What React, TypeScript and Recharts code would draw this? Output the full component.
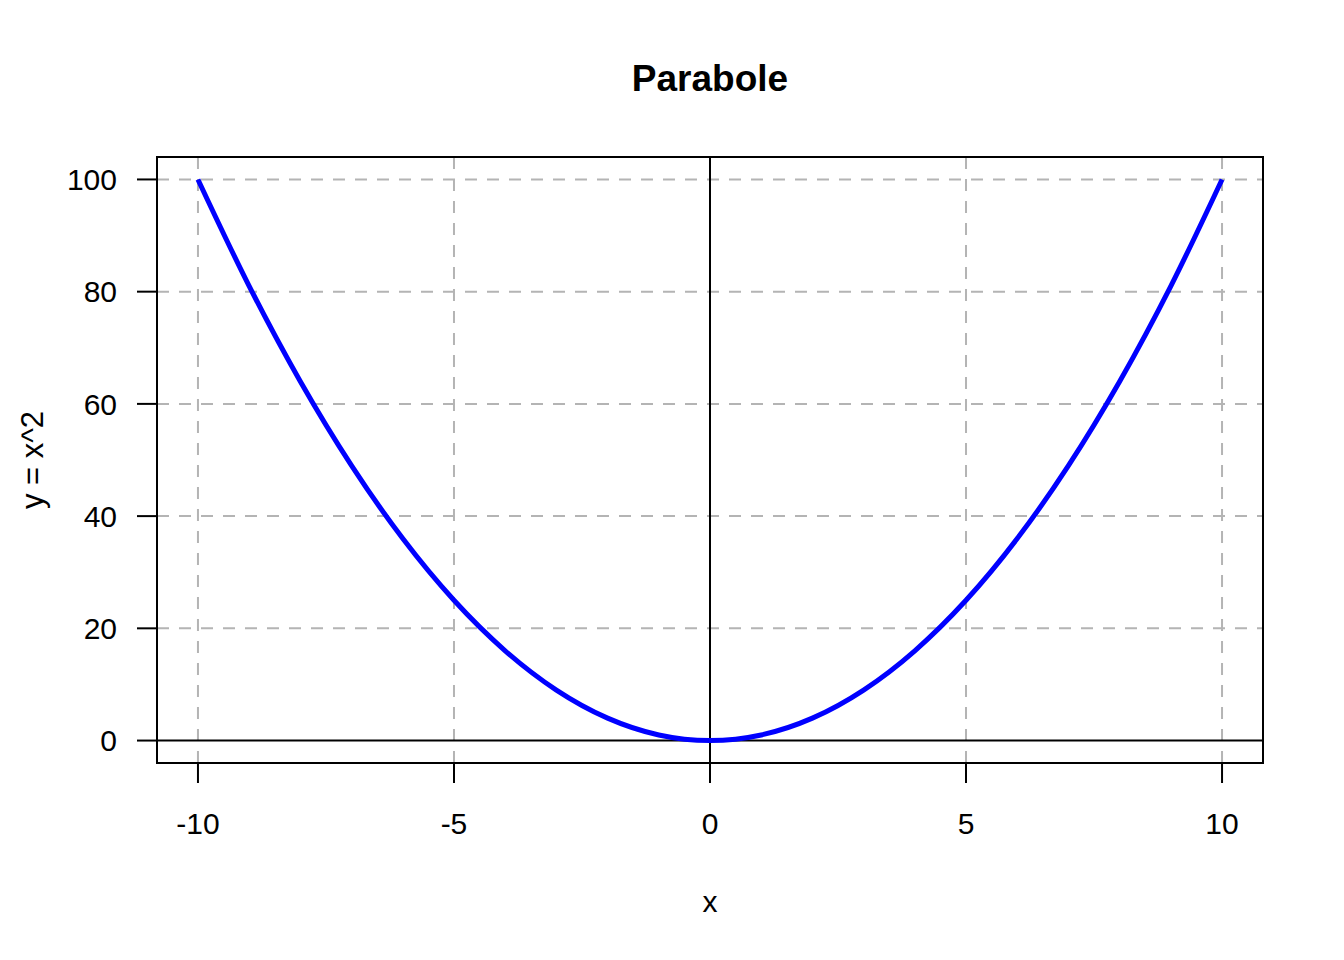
import React from "react";
import {
  CartesianGrid,
  Label,
  Line,
  LineChart,
  ReferenceArea,
  ReferenceLine,
  XAxis,
  YAxis,
} from "recharts";

// values
const xValues = [-10, -9, -8, -7, -6, -5, -4, -3, -2, -1, 0, 1, 2, 3, 4, 5, 6, 7, 8, 9, 10];
const yValues = [100, 81, 64, 49, 36, 25, 16, 9, 4, 1, 0, 1, 4, 9, 16, 25, 36, 49, 64, 81, 100];
const xTicks = [-10, -5, 0, 5, 10];
const yTicks = [0, 20, 40, 60, 80, 100];

const data = xValues.map((x, i) => ({ x, y: yValues[i] }));

const FONT = '"Liberation Sans", Arial, Helvetica, sans-serif';
const GRID = "#b4b4b4";

export default function App() {
  return (
    <div
      style={{
        position: "absolute",
        left: 0,
        top: 0,
        width: 1344,
        height: 960,
        background: "#fff",
        fontFamily: FONT,
      }}
    >
      <div
        style={{
          position: "absolute",
          left: 0,
          width: 1420,
          top: 60,
          textAlign: "center",
          fontSize: 37,
          lineHeight: "37px",
          fontWeight: "bold",
          color: "#000",
        }}
      >
        Parabole
      </div>
      <LineChart
        width={1344}
        height={960}
        data={data}
        margin={{ top: 157, right: 81, left: 0, bottom: 0 }}
        style={{ fontFamily: FONT }}
      >
        <CartesianGrid
          stroke={GRID}
          strokeWidth={2}
          strokeDasharray="12 10"
          verticalValues={[-10, -5, 5, 10]}
          horizontalValues={[20, 40, 60, 80, 100]}
        />
        <XAxis
          dataKey="x"
          type="number"
          domain={[-10.8, 10.8]}
          allowDataOverflow
          ticks={xTicks}
          height={197}
          axisLine={false}
          tickSize={20}
          tickMargin={30}
          tickLine={{ stroke: "#000", strokeWidth: 2 }}
          tick={{ fill: "#000", fontSize: 30, fontFamily: FONT }}
        >
          <Label
            content={({ viewBox }: any) => (
              <text
                x={viewBox.x + viewBox.width / 2}
                y={viewBox.y + 149}
                textAnchor="middle"
                fontSize={30}
                fontFamily={FONT}
                fill="#000"
              >
                x
              </text>
            )}
          />
        </XAxis>
        <YAxis
          type="number"
          domain={[-4, 104]}
          allowDataOverflow
          ticks={yTicks}
          width={157}
          axisLine={false}
          tickSize={20}
          tickMargin={20}
          tickLine={{ stroke: "#000", strokeWidth: 2 }}
          tick={{ fill: "#000", fontSize: 30, fontFamily: FONT }}
        >
          <Label
            content={({ viewBox }: any) => {
              const cx = 43;
              const cy = viewBox.y + viewBox.height / 2;
              return (
                <text
                  x={cx}
                  y={cy}
                  transform={`rotate(-90 ${cx} ${cy})`}
                  textAnchor="middle"
                  fontSize={31}
                  fontFamily={FONT}
                  fill="#000"
                >
                  y = x^2
                </text>
              );
            }}
          />
        </YAxis>
        <ReferenceLine x={0} stroke="#000" strokeWidth={2} />
        <ReferenceLine y={0} stroke="#000" strokeWidth={2} />
        <Line
          type="monotone"
          dataKey="y"
          stroke="#0000ff"
          strokeWidth={5}
          dot={false}
          activeDot={false}
          isAnimationActive={false}
        />
        <ReferenceArea
          x1={-10.8}
          x2={10.8}
          y1={-4}
          y2={104}
          fill="none"
          fillOpacity={0}
          stroke="#000"
          strokeWidth={2}
          ifOverflow="visible"
        />
      </LineChart>
    </div>
  );
}
